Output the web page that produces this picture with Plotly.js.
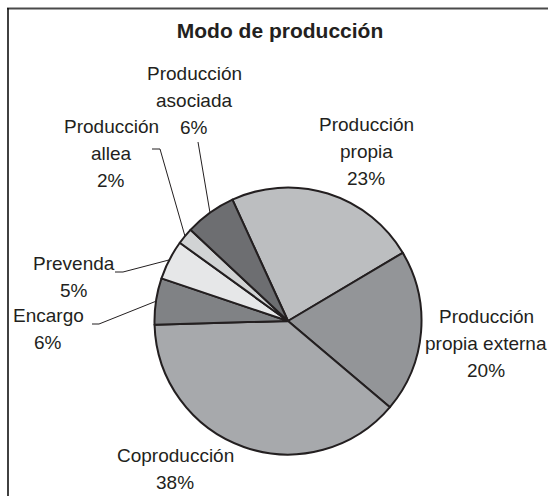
<!DOCTYPE html>
<html>
<head>
<meta charset="utf-8">
<script src="https://cdn.plot.ly/plotly-3.0.1.min.js"></script>
<style>html,body{margin:0;padding:0;background:#fff;}#chart{width:548px;height:496px;}</style>
</head>
<body>
<div id="chart"></div>
<script>
// ---- data ----
const chartTitle = 'Modo de producción';
const labels = ['Producción propia', 'Producción propia externa', 'Coproducción', 'Encargo', 'Prevenda', 'Producción allea', 'Producción asociada'];
const values = [23.3, 19.7, 38.4, 5.6, 4.8, 2.0, 6.2];
const colors = ['#bcbec0', '#939598', '#a7a9ac', '#808285', '#e6e7e8', '#d1d3d4', '#6d6e71'];

// ---- layout helpers (pixel -> paper) ----
const W = 548, H = 496;
const px = x => x / W;
const py = y => 1 - y / H;
const FONT = 'Liberation Sans, Arial, sans-serif';
const INK = '#231f20';

const cx = 288, cy = 321, R = 133.5;   // pie placement
const rotation = -24.6;

// label block centres and leader elbows (pixels)
const labelPos = [
  {x: 366, y: 152},
  {x: 486, y: 343},
  {x: 175, y: 469},
  {x: 48,  y: 328.5, elbow: [[92, 324], [99, 324]]},
  {x: 74,  y: 277,   elbow: [[115, 272], [123, 272]]},
  {x: 111, y: 153,   elbow: [[152, 149], [160, 149]]},
  {x: 194, y: 100,   elbow: [[198, 142]]}
];
const lineGap = 27;

const total = values.reduce((a, b) => a + b, 0);
const annotations = [];
const shapes = [];

let acc = 0;
values.forEach((v, i) => {
  const pct = Math.round(v / total * 100) + '%';
  const lines = labels[i].replace(' ', '\n').split('\n').concat([pct]);
  const pos = labelPos[i];
  lines.forEach((t, k) => {
    annotations.push({
      text: t, x: px(pos.x), y: py(pos.y + (k - (lines.length - 1) / 2) * lineGap),
      xref: 'paper', yref: 'paper', xanchor: 'center', yanchor: 'middle',
      showarrow: false, font: {family: FONT, size: 19, color: INK}
    });
  });
  // slice mid-angle (clockwise from 12 o'clock)
  const mid = (rotation + (acc + v / 2) / total * 360) * Math.PI / 180;
  acc += v;
  if (pos.elbow) {
    const pts = pos.elbow.concat([[cx + R * Math.sin(mid), cy - R * Math.cos(mid)]]);
    for (let k = 0; k < pts.length - 1; k++) {
      shapes.push({
        type: 'line', xref: 'paper', yref: 'paper',
        x0: px(pts[k][0]), y0: py(pts[k][1]), x1: px(pts[k + 1][0]), y1: py(pts[k + 1][1]),
        line: {color: INK, width: 1}
      });
    }
  }
});

// frame (top and left edges)
shapes.push({type: 'line', xref: 'paper', yref: 'paper', x0: px(7), y0: py(8.5), x1: px(548), y1: py(8.5), line: {color: '#4a4a4a', width: 2}});
shapes.push({type: 'line', xref: 'paper', yref: 'paper', x0: px(8), y0: py(8), x1: px(8), y1: py(496), line: {color: '#111111', width: 1.6}});

const trace = {
  type: 'pie',
  labels: labels,
  values: values,
  sort: false,
  direction: 'clockwise',
  rotation: rotation,
  textinfo: 'none',
  hoverinfo: 'label+percent',
  marker: {colors: colors, line: {color: INK, width: 2}},
  domain: {x: [px(cx - R), px(cx + R)], y: [py(cy + R), py(cy - R)]}
};

const layout = {
  width: W, height: H,
  margin: {l: 0, r: 0, t: 0, b: 0},
  paper_bgcolor: '#ffffff',
  showlegend: false,
  title: {
    text: '<b>' + chartTitle + '</b>',
    x: px(280), xanchor: 'center', y: py(31), yanchor: 'middle',
    font: {family: FONT, size: 21, color: INK}
  },
  annotations: annotations,
  shapes: shapes
};

Plotly.newPlot('chart', [trace], layout, {displayModeBar: false, staticPlot: true});
</script>
</body>
</html>
